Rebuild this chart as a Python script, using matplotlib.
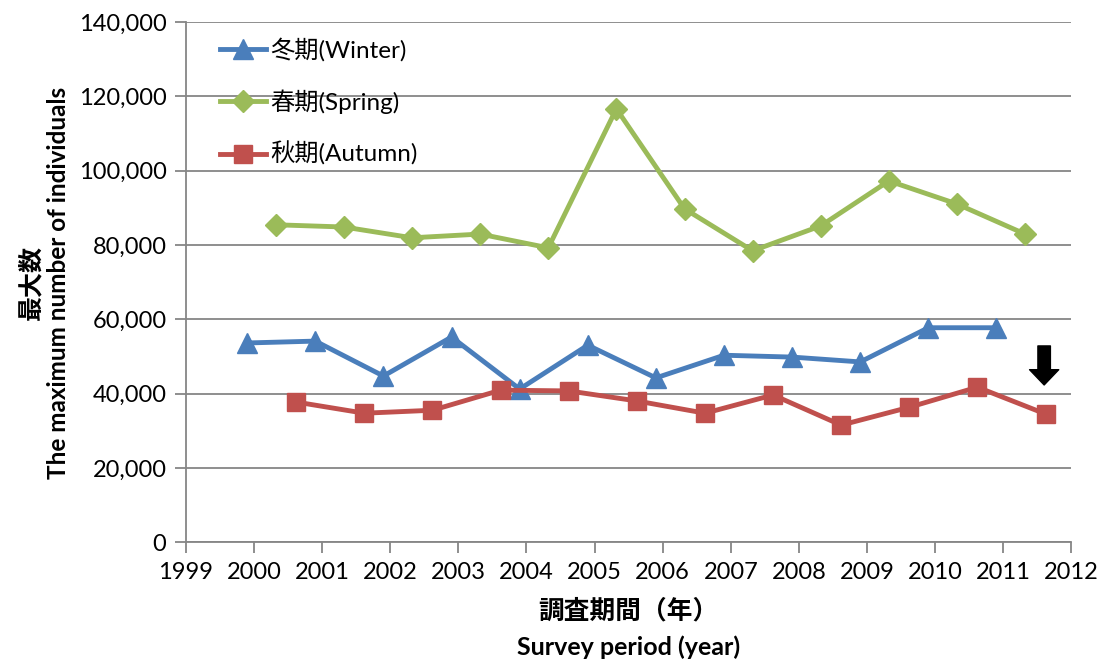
import matplotlib.pyplot as plt
from matplotlib.ticker import FuncFormatter

plt.rcParams['font.family'] = ['Lato', 'Noto Sans CJK JP', 'DejaVu Sans']

# 調査年度 (2000-2011)
years = [2000, 2001, 2002, 2003, 2004, 2005, 2006, 2007, 2008, 2009, 2010, 2011]

# 各季節の調査時期のずれ（年）
winter_x = [y - 0.1 for y in years]
spring_x = [y + 0.32 for y in years]
autumn_x = [y + 0.62 for y in years]

winter = [53600, 54100, 44700, 55200, 41200, 53000, 44200, 50300, 49800, 48500, 57700, 57700]
spring = [85400, 84800, 81900, 82900, 79200, 116600, 89700, 78400, 85100, 97200, 91000, 82900]
autumn = [37700, 34700, 35500, 40900, 40700, 38000, 34700, 39600, 31500, 36300, 41700, 34500]

fig = plt.figure(figsize=(11, 6.62), dpi=100)
ax = fig.add_axes([0.169, 0.181, 0.805, 0.786])

ax.plot(winter_x, winter, color='#4A7EBB', lw=3.5, marker='^', ms=14,
        label='冬期(Winter)', zorder=3)
ax.plot(spring_x, spring, color='#9BBB59', lw=3.5, marker='D', ms=11,
        label='春期(Spring)', zorder=3)
ax.plot(autumn_x, autumn, color='#C0504D', lw=3.5, marker='s', ms=13,
        label='秋期(Autumn)', zorder=3)

# 矢印
ax.annotate('', xy=(2011.6, 42300), xytext=(2011.6, 52800),
            arrowprops=dict(facecolor='black', edgecolor='black',
                            width=9, headwidth=21, headlength=11))

ax.set_xlim(1999, 2012)
ax.set_ylim(0, 140000)
ax.set_xticks(range(1999, 2013))
ax.set_yticks(range(0, 140001, 20000))
ax.yaxis.set_major_formatter(FuncFormatter(lambda v, p: f'{int(v):,}'))

ax.grid(axis='y', color='#868686', lw=1.3)
ax.set_axisbelow(True)
for s in ['top', 'right']:
    ax.spines[s].set_visible(False)
for s in ['left', 'bottom']:
    ax.spines[s].set_color('#868686')
    ax.spines[s].set_linewidth(1.3)
ax.tick_params(axis='both', color='#868686', width=1.3, length=8,
               labelsize=17, pad=6)

ax.legend(loc='upper left', frameon=False, fontsize=17.5, handlelength=1.9,
          labelspacing=1.15, bbox_to_anchor=(0.014, 1.012), handletextpad=0.15)

fig.text(0.028, 0.18 + 0.786 / 2, '最大数', rotation=90, fontsize=18,
         fontweight='bold', ha='center', va='center')
fig.text(0.053, 0.18 + 0.786 / 2, 'The maximum number of individuals',
         rotation=90, fontsize=17.5, fontweight='bold', ha='center', va='center')
fig.text(0.5715, 0.078, '調査期間（年）', fontsize=18.5, fontweight='bold',
         ha='center', va='center')
fig.text(0.5715, 0.022, 'Survey period (year)', fontsize=18,
         fontweight='bold', ha='center', va='center')

plt.savefig('out.png', dpi=100)
